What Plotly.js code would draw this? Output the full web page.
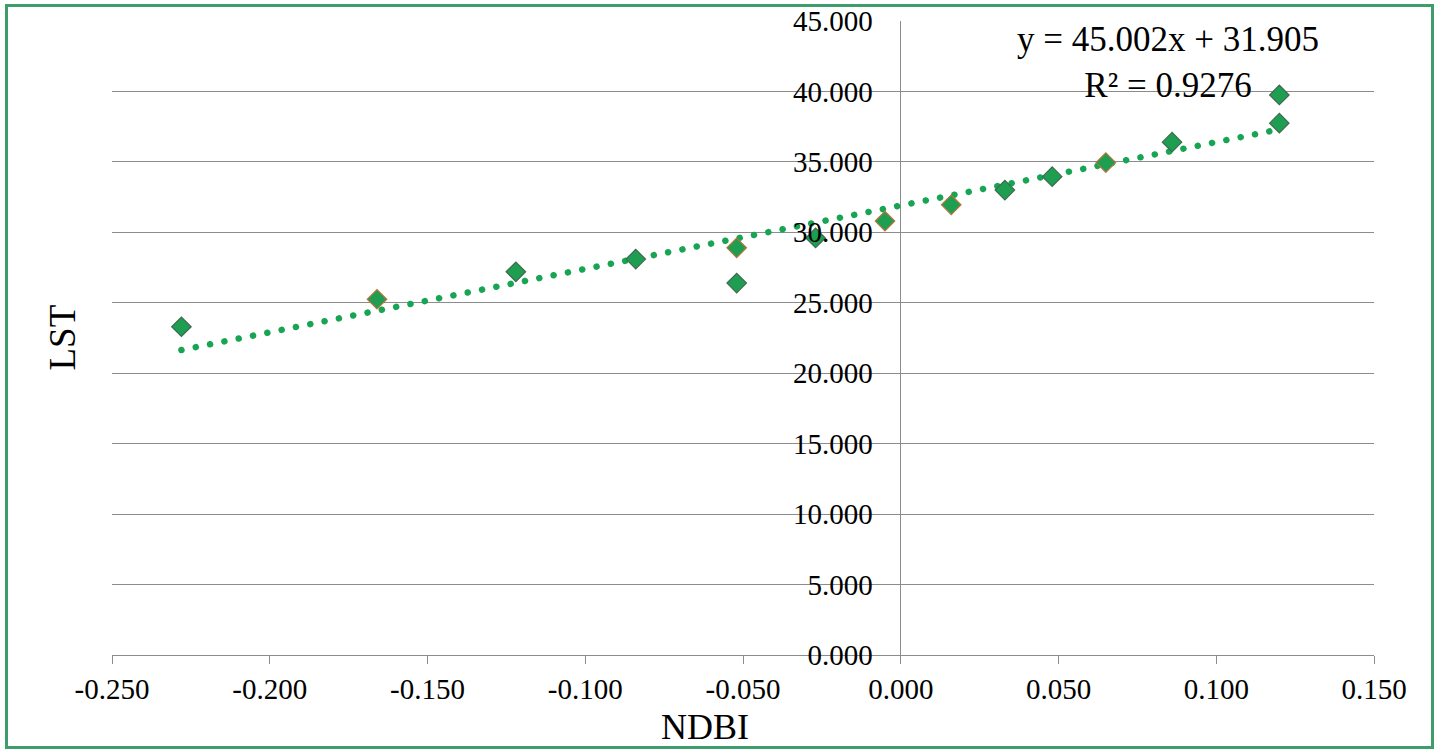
<!DOCTYPE html>
<html>
<head>
<meta charset="utf-8">
<script src="https://cdn.plot.ly/plotly-3.0.1.min.js"></script>
<style>
  html, body { margin: 0; padding: 0; background: #fff; }
  #wrap { position: relative; width: 1437px; height: 750px; }
  #chart { width: 1437px; height: 750px; }
  #frame { position: absolute; left: 5px; top: 4px; width: 1423px; height: 739px;
           border: 3px solid #3f9d6c; pointer-events: none; }
  .trend .js-line { stroke-linecap: round; }
</style>
</head>
<body>
<div id="wrap">
  <div id="chart"></div>
  <div id="frame"></div>
</div>
<script>
// NDBI (x) and LST (y) values
const ndbi = [-0.228, -0.166, -0.122, -0.084, -0.052, -0.052, -0.027, -0.005, 0.016, 0.033, 0.048, 0.065, 0.086, 0.120, 0.120];
const lst  = [23.3, 25.25, 27.2, 28.1, 28.9, 26.4, 29.6, 30.8, 31.95, 33.0, 33.95, 34.95, 36.4, 37.75, 39.75];
const outlineColors = ['#3f6a52', '#b8743a', '#3f6a52', '#3f6a52', '#b8743a', '#3f6a52', '#3f6a52', '#b8743a', '#b8743a', '#3f6a52', '#3f6a52', '#b8743a', '#3f6a52', '#3f6a52', '#3f6a52'];

// Trendline shown on the chart
const slope = 45.002;
const intercept = 31.905;
const eqText = 'y = 45.002x + 31.905<br>R² = 0.9276';

const xTickVals = [-0.25, -0.2, -0.15, -0.1, -0.05, 0, 0.05, 0.1, 0.15];
const xTickLabels = ['-0.250', '-0.200', '-0.150', '-0.100', '-0.050', '0.000', '0.050', '0.100', '0.150'];
const yTickVals = [0, 5, 10, 15, 20, 25, 30, 35, 40, 45];
const yTickLabels = ['0.000', '5.000', '10.000', '15.000', '20.000', '25.000', '30.000', '35.000', '40.000', '45.000'];

const xMin = Math.min(...ndbi), xMax = Math.max(...ndbi);
const trendX = [xMin, xMax];
const trendY = trendX.map(v => slope * v + intercept);

const font = 'Liberation Serif, Times New Roman, serif';

const traces = [
  {
    x: trendX, y: trendY, type: 'scatter', mode: 'lines',
    line: { color: '#17a553', width: 6.5, dash: '0.1px,14.5px' },
    hoverinfo: 'skip', showlegend: false
  },
  {
    x: ndbi, y: lst, type: 'scatter', mode: 'markers',
    marker: { symbol: 'diamond', size: 15, color: '#1e9e50',
              line: { color: outlineColors, width: 1.2 } },
    showlegend: false
  }
];

const layout = {
  width: 1437, height: 750,
  margin: { l: 112, r: 63, t: 21, b: 95 },
  paper_bgcolor: '#ffffff', plot_bgcolor: '#ffffff',
  showlegend: false,
  font: { family: font, color: '#000', size: 29 },
  xaxis: {
    range: [-0.25, 0.15], domain: [0, 1],
    tickvals: xTickVals, ticktext: xTickLabels,
    showgrid: false,
    zeroline: true, zerolinecolor: '#8c8c8c', zerolinewidth: 1,
    showline: true, linecolor: '#8c8c8c', linewidth: 1,
    ticks: 'outside', ticklen: 8, tickcolor: '#8c8c8c', tickwidth: 1,
    tickfont: { family: font, size: 29, color: '#000' },
    fixedrange: true
  },
  yaxis: {
    range: [0, 45], anchor: 'free', position: 0.625,
    tickvals: yTickVals, ticktext: yTickLabels,
    showgrid: true, gridcolor: '#8c8c8c', gridwidth: 1,
    zeroline: false, showline: false, ticks: '',
    ticklabelstandoff: 28,
    tickfont: { family: font, size: 29, color: '#000' },
    fixedrange: true
  },
  annotations: [
    {
      text: 'LST', xref: 'paper', yref: 'paper', x: -0.04, y: 0.5,
      xanchor: 'center', yanchor: 'middle', textangle: -90, showarrow: false,
      font: { family: font, size: 37, color: '#000' }
    },
    {
      text: 'NDBI', xref: 'paper', yref: 'paper', x: 0.47, y: -0.114,
      xanchor: 'center', yanchor: 'middle', showarrow: false,
      font: { family: font, size: 36, color: '#000' }
    },
    {
      text: eqText, xref: 'paper', yref: 'paper', x: 0.837, y: 1.005,
      xanchor: 'center', yanchor: 'top', align: 'center', showarrow: false,
      font: { family: font, size: 35, color: '#000' }
    }
  ]
};

Plotly.newPlot('chart', traces, layout, { displayModeBar: false, staticPlot: true }).then(() => {
  document.querySelectorAll('.scatterlayer .trace').forEach((t, i) => { if (i === 0) t.classList.add('trend'); });
});
</script>
</body>
</html>
